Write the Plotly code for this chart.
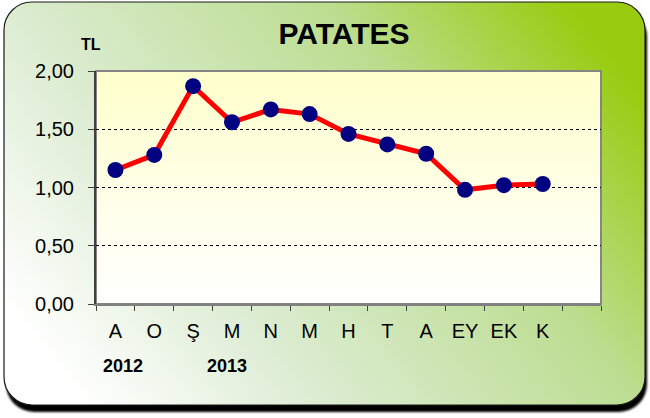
import base64

import plotly.graph_objects as go

# data
months = ["A", "O", "Ş", "M", "N", "M", "H", "T", "A", "EY", "EK", "K"]
prices = [1.15, 1.28, 1.87, 1.56, 1.67, 1.63, 1.46, 1.37, 1.29, 0.98, 1.02, 1.03]
years = ["2012", "2013"]
year_pos = [0.2, 2.87]  # where the year captions sit, in category units
n_slots = 13  # the axis leaves one empty slot after K

W, H = 650, 418
ML, MR, MT, MB = 96, 49, 71, 114
PW, PH = W - ML - MR, H - MT - MB


def svg_uri(svg):
    return "data:image/svg+xml;base64," + base64.b64encode(svg.encode("utf-8")).decode()


# rounded green card with a dark drop shadow
card_svg = f"""<svg xmlns="http://www.w3.org/2000/svg" width="{W}" height="{H}" viewBox="0 0 {W} {H}">
<defs>
<linearGradient id="g" x1="0" y1="0.75" x2="1" y2="0.25">
<stop offset="0" stop-color="#ffffff"/>
<stop offset="0.3" stop-color="#dcecd2"/>
<stop offset="0.7" stop-color="#bcdd90"/>
<stop offset="1" stop-color="#99cc11"/>
</linearGradient>
<filter id="b" x="-5%" y="-5%" width="110%" height="115%"><feGaussianBlur stdDeviation="1.2"/></filter>
</defs>
<rect x="6" y="9" width="641" height="403" rx="28" ry="28" fill="#000" filter="url(#b)"/>
<rect x="4" y="2" width="641" height="403" rx="28" ry="28" fill="url(#g)" stroke="#1a1a1a" stroke-width="1.2"/>
</svg>"""

# pale yellow plot area fading to white
plot_svg = """<svg xmlns="http://www.w3.org/2000/svg" width="100" height="100" viewBox="0 0 100 100" preserveAspectRatio="none">
<defs><linearGradient id="p" x1="0" y1="0" x2="0" y2="1">
<stop offset="0" stop-color="#ffffcc"/><stop offset="1" stop-color="#ffffff"/>
</linearGradient></defs>
<rect x="0" y="0" width="100" height="100" fill="url(#p)"/>
</svg>"""

fig = go.Figure()
fig.add_trace(
    go.Scatter(
        x=list(range(len(months))),
        y=prices,
        mode="lines+markers",
        line=dict(color="#ff0000", width=5),
        marker=dict(color="#000080", size=16),
        showlegend=False,
        hoverinfo="y",
    )
)

fig.update_layout(
    width=W,
    height=H,
    margin=dict(l=ML, r=MR, t=MT, b=MB),
    paper_bgcolor="#ffffff",
    plot_bgcolor="#ffffff",
    separators=",.",
    font=dict(family="Liberation Sans, Arial, sans-serif", color="#000000"),
    title=dict(
        text="<b>PATATES</b>",
        font=dict(size=30, color="#000000"),
        x=344 / W,
        xanchor="center",
        y=1 - 33 / H,
        yanchor="middle",
    ),
    images=[
        dict(
            source=svg_uri(card_svg),
            xref="paper",
            yref="paper",
            x=-ML / PW,
            y=1 + MT / PH,
            sizex=W / PW,
            sizey=H / PH,
            sizing="stretch",
            layer="below",
        ),
        dict(
            source=svg_uri(plot_svg),
            xref="paper",
            yref="paper",
            x=0,
            y=1,
            sizex=1,
            sizey=1,
            sizing="stretch",
            layer="below",
        ),
    ],
    shapes=[
        dict(
            type="rect",
            xref="paper",
            yref="paper",
            x0=0,
            x1=1,
            y0=0,
            y1=1,
            line=dict(color="#858585", width=2),
            layer="below",
        )
    ],
)

fig.update_xaxes(
    range=[-0.5, n_slots - 0.5],
    tickmode="array",
    tickvals=list(range(len(months))),
    ticktext=months,
    ticks="",
    minor=dict(
        tickmode="array",
        tickvals=[i - 0.5 for i in range(n_slots + 1)],
        ticks="outside",
        ticklen=5,
        tickcolor="#404040",
        showgrid=False,
    ),
    tickfont=dict(size=20),
    ticklabelstandoff=8,
    showline=True,
    linecolor="#808080",
    linewidth=2,
    showgrid=False,
    zeroline=False,
    fixedrange=True,
)

fig.update_yaxes(
    range=[0, 2],
    dtick=0.5,
    tickformat=".2f",
    ticks="outside",
    ticklen=6,
    tickcolor="#404040",
    tickfont=dict(size=20),
    ticklabelstandoff=10,
    showline=True,
    linecolor="#404040",
    linewidth=2,
    showgrid=True,
    gridcolor="#000000",
    gridwidth=1,
    griddash="dot",
    zeroline=False,
    fixedrange=True,
)

fig.add_annotation(
    text="<b>TL</b>",
    xref="paper",
    yref="paper",
    x=-5 / PW,
    y=1 + 26 / PH,
    showarrow=False,
    font=dict(size=16),
    xanchor="center",
    yanchor="middle",
)

for label, pos in zip(years, year_pos):
    fig.add_annotation(
        text=f"<b>{label}</b>",
        xref="x",
        yref="paper",
        x=pos,
        y=-62 / PH,
        showarrow=False,
        font=dict(size=18),
        xanchor="center",
        yanchor="middle",
    )

# the page's default body margin would push the card 8px off the window
fig.write_html(
    "out.html",
    config={"displayModeBar": False},
    post_script="document.body.style.margin='0';",
)
